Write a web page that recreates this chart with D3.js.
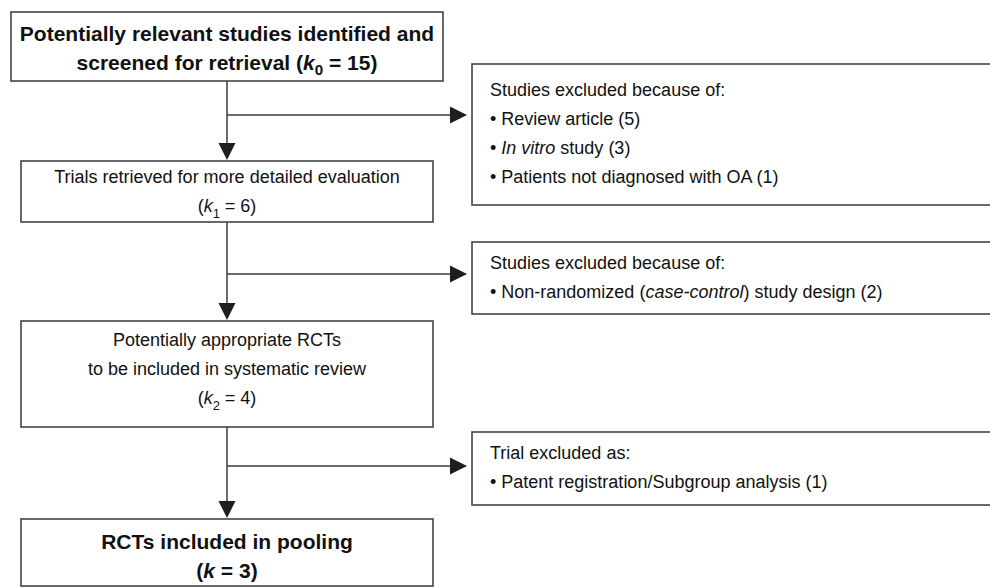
<!DOCTYPE html>
<html>
<head>
<meta charset="utf-8">
<script src="https://cdn.jsdelivr.net/npm/d3@7"></script>
<style>
  body { margin: 0; background: #fff; }
  svg { display: block; font-family: "Liberation Sans", Arial, Helvetica, sans-serif; }
  text { white-space: pre; fill: #111; }
</style>
</head>
<body>
<svg id="chart" width="990" height="587"></svg>
<script>
// main flow stages
const stageLines = [
  ["Potentially relevant studies identified and", "screened for retrieval"],
  ["Trials retrieved for more detailed evaluation"],
  ["Potentially appropriate RCTs", "to be included in systematic review"],
  ["RCTs included in pooling"]
];
const stageSub = ["0", "1", "2", ""];
const stageCount = [15, 6, 4, 3];
const stageInline = [true, false, false, false];

// exclusions
const exclHead = ["Studies excluded because of:", "Studies excluded because of:", "Trial excluded as:"];
const exclReasons = [
  [[{t: "Review article"}], [{t: "In vitro", i: true}, {t: " study"}], [{t: "Patients not diagnosed with OA"}]],
  [[{t: "Non-randomized ("}, {t: "case-control", i: true}, {t: ") study design"}]],
  [[{t: "Patent registration/Subgroup analysis"}]]
];
const exclCounts = [[5, 3, 1], [2], [1]];

// layout
const mainBoxes = [
  {x0: 11, x1: 443, y0: 12, y1: 81, bold: true, fs: 21, ty: 33},
  {x0: 21, x1: 433, y0: 161, y1: 222, fs: 18, ty: 177},
  {x0: 21, x1: 433, y0: 321, y1: 427, fs: 18, ty: 340},
  {x0: 21, x1: 433, y0: 519, y1: 586, bold: true, fs: 21, ty: 541}
];
const sideBoxes = [
  {y0: 64, y1: 205, ty: 90},
  {y0: 242, y1: 314, ty: 263},
  {y0: 432, y1: 505, ty: 453}
];
const sideX0 = 472, sideX1 = 996, sideTextX = 490;
const spineX = 227, branchY = [115, 274, 466], arrowTipX = 467;
const lh = 29, headLen = 17, headHalf = 8.5;

const svg = d3.select("#chart");

function kSegs(i) {
  const segs = [{t: "("}, {t: "k", i: true}];
  if (stageSub[i]) segs.push({t: stageSub[i], sub: true});
  segs.push({t: " = " + stageCount[i] + ")"});
  return segs;
}

function writeLine(g, x, y, segs, anchor, fs, bold) {
  const t = g.append("text")
    .attr("x", x)
    .attr("y", y + fs * 0.36)
    .attr("text-anchor", anchor)
    .attr("font-size", fs)
    .attr("font-weight", bold ? "bold" : "normal");
  let shifted = false;
  segs.forEach(s => {
    const ts = t.append("tspan").text(s.t);
    if (s.i) ts.attr("font-style", "italic");
    if (s.sub) {
      ts.attr("font-size", fs * 0.72).attr("dy", fs * 0.28);
      shifted = true;
    } else if (shifted) {
      ts.attr("dy", -fs * 0.28);
      shifted = false;
    }
  });
}

// connectors
const links = svg.append("g");
branchY.forEach((by, j) => {
  const top = mainBoxes[j].y1, next = mainBoxes[j + 1].y0 - 1;
  links.append("line")
    .attr("x1", spineX).attr("x2", spineX)
    .attr("y1", top).attr("y2", next - headLen + 1)
    .attr("stroke", "#3a3a3a").attr("stroke-width", 1.5);
  links.append("path")
    .attr("d", `M${spineX - headHalf},${next - headLen}L${spineX + headHalf},${next - headLen}L${spineX},${next}Z`)
    .attr("fill", "#1e1e1e");
  links.append("line")
    .attr("x1", spineX).attr("x2", arrowTipX - headLen + 1)
    .attr("y1", by).attr("y2", by)
    .attr("stroke", "#3a3a3a").attr("stroke-width", 1.5);
  links.append("path")
    .attr("d", `M${arrowTipX - headLen},${by - headHalf}L${arrowTipX - headLen},${by + headHalf}L${arrowTipX},${by}Z`)
    .attr("fill", "#1e1e1e");
});

// main boxes
mainBoxes.forEach((b, i) => {
  const g = svg.append("g");
  g.append("rect")
    .attr("x", b.x0).attr("y", b.y0)
    .attr("width", b.x1 - b.x0).attr("height", b.y1 - b.y0)
    .attr("fill", "#fff").attr("stroke", "#444").attr("stroke-width", 1.6);
  const lines = stageLines[i].map(s => [{t: s}]);
  if (stageInline[i]) lines[lines.length - 1] = lines[lines.length - 1].concat([{t: " "}], kSegs(i));
  else lines.push(kSegs(i));
  const cx = (b.x0 + b.x1) / 2;
  lines.forEach((segs, k) => writeLine(g, cx, b.ty + k * lh, segs, "middle", b.fs, b.bold));
});

// exclusion boxes
sideBoxes.forEach((b, j) => {
  const g = svg.append("g");
  g.append("rect")
    .attr("x", sideX0).attr("y", b.y0)
    .attr("width", sideX1 - sideX0).attr("height", b.y1 - b.y0)
    .attr("fill", "#fff").attr("stroke", "#444").attr("stroke-width", 1.6);
  const lines = [[{t: exclHead[j]}]].concat(
    exclReasons[j].map((r, k) => [{t: "\u2022 "}].concat(r, [{t: " (" + exclCounts[j][k] + ")"}]))
  );
  lines.forEach((segs, k) => writeLine(g, sideTextX, b.ty + k * lh, segs, "start", 18, false));
});
</script>
</body>
</html>
